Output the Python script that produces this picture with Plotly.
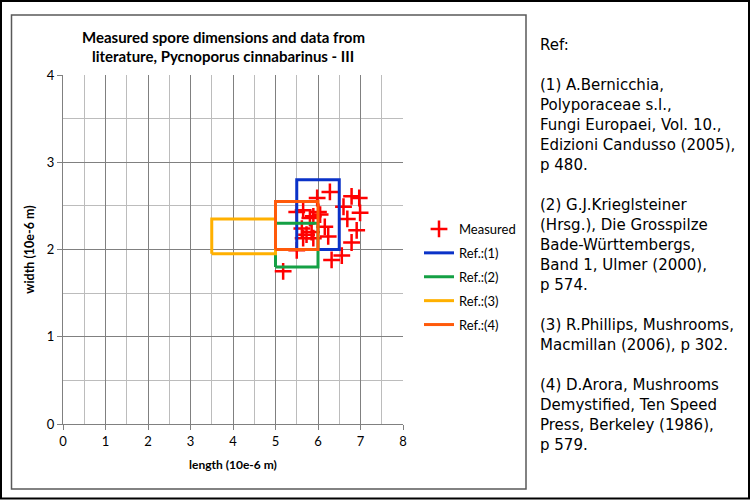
import plotly.graph_objects as go

# ---------------- data ----------------
MEAS_LEN = [6.28, 5.98, 6.79, 6.97, 6.60, 6.99, 5.50, 5.65, 6.01, 5.89, 5.81, 6.05, 6.69,
            6.16, 6.91, 5.62, 5.85, 5.73, 6.24, 5.89, 5.65, 6.79, 5.50, 6.56, 6.32, 5.18]
MEAS_WID = [2.66, 2.59, 2.61, 2.59, 2.49, 2.42, 2.43, 2.45, 2.43, 2.38, 2.36, 2.40, 2.35,
            2.26, 2.22, 2.24, 2.20, 2.17, 2.15, 2.13, 2.13, 2.08, 1.99, 1.93, 1.88, 1.75]

REF_NAMES = ["Ref.:(1)", "Ref.:(2)", "Ref.:(3)", "Ref.:(4)"]
REF_LEN_MIN = [5.5, 5.0, 3.5, 5.0]
REF_LEN_MAX = [6.5, 6.0, 5.0, 6.0]
REF_WID_MIN = [2.0, 1.8, 1.95, 2.0]
REF_WID_MAX = [2.8, 2.3, 2.35, 2.55]
REF_COLORS = ["#0a32c8", "#14a044", "#ffb000", "#ff5a0a"]

TITLE_LINES = ["Measured spore dimensions and data from",
               "literature, Pycnoporus cinnabarinus - III"]
X_TITLE = "length (10e-6 m)"
Y_TITLE = "width (10e-6 m)"

REF_LINES = [
    "Ref:", "",
    "(1) A.Bernicchia,", "Polyporaceae s.l.,", "Fungi Europaei, Vol. 10.,",
    "Edizioni Candusso (2005),", "p 480.", "",
    "(2) G.J.Krieglsteiner", "(Hrsg.), Die Grosspilze", "Bade-Württembergs,",
    "Band 1, Ulmer (2000),", "p 574.", "",
    "(3) R.Phillips, Mushrooms,", "Macmillan (2006), p 302.", "",
    "(4) D.Arora, Mushrooms", "Demystified, Ten Speed", "Press, Berkeley (1986),", "p 579.",
]

# ---------------- geometry helpers ----------------
W, H = 750, 500
L, R, T, B = 63, 403, 75, 424  # plot area in pixels


def px(x):
    return (x - L) / (R - L)


def py(y):
    return (B - y) / (B - T)


fig = go.Figure()

fig.add_trace(go.Scatter(
    x=MEAS_LEN, y=MEAS_WID, mode="markers", name="Measured", legendgroup="m",
    marker=dict(symbol="cross-thin", size=12, color="#ff0000",
                line=dict(color="#ff0000", width=2.5)),
))

for name, x0, x1, y0, y1, c in zip(REF_NAMES, REF_LEN_MIN, REF_LEN_MAX,
                                   REF_WID_MIN, REF_WID_MAX, REF_COLORS):
    fig.add_trace(go.Scatter(
        x=[x0, x1, x1, x0, x0], y=[y0, y0, y1, y1, y0], mode="lines", name=name,
        legendgroup=name, line=dict(color=c, width=3),
    ))

GRID = "#808080"
MINOR = "#bcbcbc"
axis_common = dict(
    dtick=1, tick0=0, showgrid=True, gridcolor=GRID, gridwidth=1,
    minor=dict(dtick=0.5, showgrid=True, gridcolor=MINOR, gridwidth=1),
    showline=True, linecolor=GRID, linewidth=1,
    ticks="outside", ticklen=5, tickcolor=GRID, tickwidth=1,
    zeroline=False, tickfont=dict(family="Lato", size=13, color="#000000"),
    fixedrange=True,
)

fig.update_xaxes(range=[0, 8], **axis_common,
                 title=dict(text="<b>" + X_TITLE + "</b>", standoff=13,
                            font=dict(family="Lato", size=12, color="#000000")))
fig.update_yaxes(range=[0, 4], **axis_common,
                 title=dict(text="<b>" + Y_TITLE + "</b>", standoff=9,
                            font=dict(family="Lato", size=12.5, color="#000000")))

shapes = [
    dict(type="rect", xref="paper", yref="paper",
         x0=px(1), x1=px(749), y0=py(1), y1=py(498.5),
         line=dict(color="#000000", width=2), fillcolor="rgba(0,0,0,0)", layer="above"),
    dict(type="rect", xref="paper", yref="paper",
         x0=px(11.5), x1=px(526), y0=py(15), y1=py(489),
         line=dict(color="#595959", width=1.5), fillcolor="rgba(0,0,0,0)", layer="above"),
]

annotations = []
for i, t in enumerate(TITLE_LINES):
    annotations.append(dict(
        text="<b>" + t + "</b>", xref="paper", yref="paper",
        x=px(223), y=py(36.5 + 19.5 * i), xanchor="center", yanchor="middle",
        showarrow=False, font=dict(family="Lato", size=15, color="#000000")))

for i, t in enumerate(REF_LINES):
    if not t:
        continue
    annotations.append(dict(
        text=t, xref="paper", yref="paper",
        x=px(538), y=py(45 + 20 * i), xanchor="left", yanchor="middle",
        showarrow=False, align="left",
        font=dict(family="DejaVu Sans", size=15, color="#000000")))

fig.update_layout(
    width=W, height=H,
    margin=dict(l=L, r=W - R, t=T, b=H - B, pad=0),
    paper_bgcolor="#ffffff", plot_bgcolor="#ffffff",
    showlegend=True,
    legend=dict(x=px(419), y=py(214), xanchor="left", yanchor="top",
                font=dict(family="Lato", size=13, color="#000000"),
                bgcolor="rgba(0,0,0,0)", itemwidth=30, tracegroupgap=4),
    shapes=shapes, annotations=annotations,
)

fig.write_html("out.html")
